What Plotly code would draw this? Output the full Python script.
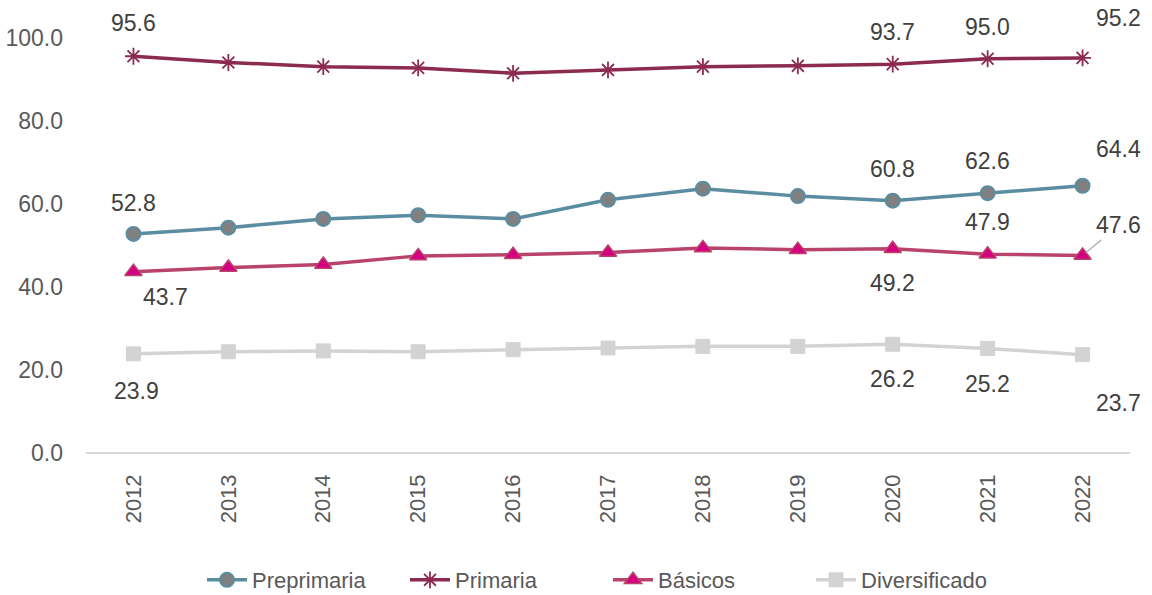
import plotly.graph_objects as go

# Cobertura por nivel educativo, 2012-2022
years = ["2012", "2013", "2014", "2015", "2016", "2017", "2018", "2019", "2020", "2021", "2022"]
preprimaria = [52.8, 54.3, 56.4, 57.3, 56.4, 61.0, 63.7, 61.9, 60.8, 62.6, 64.4]
primaria = [95.6, 94.1, 93.1, 92.8, 91.5, 92.3, 93.1, 93.3, 93.7, 95.0, 95.2]
basicos = [43.7, 44.7, 45.4, 47.5, 47.8, 48.3, 49.4, 49.0, 49.2, 47.9, 47.6]
diversificado = [23.9, 24.4, 24.6, 24.4, 24.9, 25.3, 25.7, 25.7, 26.2, 25.2, 23.7]
y_ticks = [0, 20, 40, 60, 80, 100]

FONT = "Liberation Sans, Arial, sans-serif"
TEXT = "#404040"
AXIS_TEXT = "#595959"

series = [
    dict(name="Preprimaria", y=preprimaria, line="#5A8DA1",
         marker=dict(symbol="circle", size=14, color="#808080",
                     line=dict(color="#5A8DA1", width=2))),
    dict(name="Primaria", y=primaria, line="#8C2A4F",
         marker=dict(symbol="asterisk-open", size=14, color="#8C2A4F",
                     line=dict(color="#8C2A4F", width=1.8))),
    dict(name="Básicos", y=basicos, line="#B9436B",
         marker=dict(symbol="triangle-up", size=15, color="#D4007F",
                     line=dict(color="#B9436B", width=1.5))),
    dict(name="Diversificado", y=diversificado, line="#D3D3D3",
         marker=dict(symbol="square", size=14, color="#D3D3D3",
                     line=dict(color="#D3D3D3", width=1))),
]

fig = go.Figure()
for s in series:
    fig.add_trace(go.Scatter(
        x=list(range(len(years))), y=s["y"], name=s["name"], mode="lines+markers",
        line=dict(color=s["line"], width=3.5),
        marker=s["marker"], cliponaxis=False,
    ))

# Data labels: (series values, year index, x shift px, y shift px)
label_spec = [
    (preprimaria, 0, 0, 31), (preprimaria, 8, 0, 32), (preprimaria, 9, 0, 32), (preprimaria, 10, 36, 37),
    (primaria, 0, 0, 33), (primaria, 8, 0, 32), (primaria, 9, 0, 32), (primaria, 10, 36, 40),
    (basicos, 0, 32, -25), (basicos, 8, 0, -34), (basicos, 9, 0, 32),
    (diversificado, 0, 3, -37), (diversificado, 8, 0, -35), (diversificado, 9, 0, -36), (diversificado, 10, 36, -48),
]
for vals, i, dx, dy in label_spec:
    fig.add_annotation(x=i, y=vals[i], text=f"{vals[i]:.1f}", showarrow=False,
                       xshift=dx, yshift=dy, font=dict(family=FONT, size=23, color=TEXT))

# Label with leader line for Básicos 2022
fig.add_annotation(x=10, y=basicos[10], text=f"{basicos[10]:.1f}", showarrow=True,
                   ax=36, ay=-30, arrowhead=0, arrowwidth=1.2, arrowcolor="#A6A6A6",
                   standoff=4, font=dict(family=FONT, size=23, color=TEXT))

fig.update_layout(
    width=1152, height=595,
    margin=dict(l=86, r=22, t=38, b=142),
    paper_bgcolor="white", plot_bgcolor="white",
    showlegend=True,
    legend=dict(orientation="h", x=0.5, xanchor="center",
                yref="container", y=1 - 580 / 595, yanchor="middle",
                font=dict(family=FONT, size=22, color=AXIS_TEXT),
                entrywidth=148, itemwidth=40),
    xaxis=dict(range=[-0.5, 10.5], tickvals=list(range(len(years))), ticktext=years,
               showgrid=False, zeroline=False, automargin=False,
               showline=False, ticks="", tickangle=-90, ticklabelstandoff=16,
               tickfont=dict(family=FONT, size=22, color=AXIS_TEXT)),
    yaxis=dict(range=[0, 100], tickvals=y_ticks, ticktext=[f"{v:.1f}" for v in y_ticks],
               showgrid=False, zeroline=True, zerolinecolor="#D9D9D9", zerolinewidth=2,
               showline=False, ticks="", ticklabelstandoff=22, automargin=False,
               tickfont=dict(family=FONT, size=23, color=AXIS_TEXT)),
)

fig.write_html("out.html")
